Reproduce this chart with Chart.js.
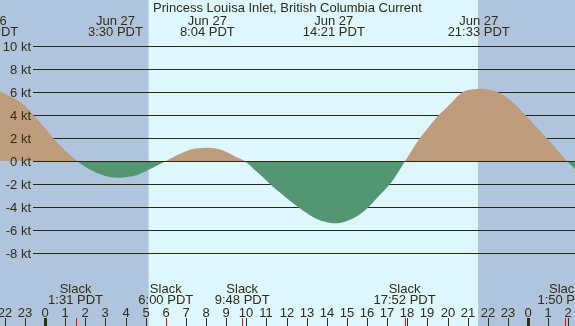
<!DOCTYPE html>
<html>
<head>
<meta charset="utf-8">
<script src="https://cdn.jsdelivr.net/npm/chart.js@4/dist/chart.umd.min.js"></script>
<style>
html,body{margin:0;padding:0;background:#fff;overflow:hidden;}
#wrap{width:575px;height:326px;position:relative;}
</style>
</head>
<body>
<div id="wrap"><canvas id="c" width="575" height="326"></canvas></div>
<script>
// ---- Data (hours relative to Jun 27 00:00 PDT) ----
const title = "Princess Louisa Inlet, British Columbia Current";
const hours = [-2.9, -2.24, -2, -1.5, -1, -0.6, 0, 0.4, 1, 1.6,
  2, 2.5, 3, 3.55, 4, 4.5, 5, 5.5, 6.02,
  6.5, 7, 7.5, 8.07, 8.5, 9, 9.5, 9.92,
  10.5, 11, 11.18, 11.5, 12, 12.59, 13, 13.5, 14, 14.4, 15, 15.5, 16.07, 16.5, 17.14, 17.5, 17.89,
  18.63, 19, 19.58, 20, 20.78, 21.2, 21.6, 22, 22.44, 23, 23.5, 23.85, 24.5, 24.93, 25.5, 25.92, 26.4];
const knots = [6.3, 6.0, 5.85, 5.4, 4.8, 4.0, 2.85, 2.0, 0.9, 0,
  -0.5, -0.98, -1.3, -1.45, -1.4, -1.25, -0.88, -0.45, 0,
  0.45, 0.85, 1.08, 1.15, 1.08, 0.8, 0.35, 0,
  -0.9, -1.7, -2.0, -2.5, -3.2, -4.0, -4.5, -5.02, -5.3, -5.4, -5.2, -4.78, -4.0, -3.2, -2.0, -1.1, 0,
  2.0, 2.8, 4.0, 4.7, 6.0, 6.2, 6.26, 6.2, 6.0, 5.45, 4.65, 4.0, 2.8, 2.0, 0.85, 0, -0.8];

const eventHours = [-2.87, 3.5, 8.067, 14.35, 21.55];
const eventDates = ["Jun 26", "Jun 27", "Jun 27", "Jun 27", "Jun 27"];
const eventTimes = ["21:08 PDT", "3:30 PDT", "8:04 PDT", "14:21 PDT", "21:33 PDT"];

const slackHours = [1.517, 6.0, 9.8, 17.867, 25.833];
const slackTimes = ["1:31 PDT", "6:00 PDT", "9:48 PDT", "17:52 PDT", "1:50 PDT"];

const sunrise = 5.15, sunset = 21.52;
const hourTicks = [];
for (let h = -2; h <= 26; h++) hourTicks.push(h);
const hourLabels = hourTicks.map(h => String(((h % 24) + 24) % 24));
const ktTicks = [10, 8, 6, 4, 2, 0, -2, -4, -6, -8];

// ---- Style ----
const NIGHT = '#B0C4DE', DAY = '#DEF6FD', FLOOD = '#BE9C7C', EBB = '#529672';
const INK = '#2e2e10', GRID = '#2a2a08';
const FONT = '13px "Liberation Sans", Arial, sans-serif';

const deco = {
  id: 'deco',
  beforeDatasetsDraw(chart) {
    const {ctx, chartArea: a, scales: {x, y}} = chart;
    ctx.save();
    const xs = x.getPixelForValue(sunrise), xe = x.getPixelForValue(sunset);
    ctx.fillStyle = NIGHT; ctx.fillRect(a.left, a.top, a.right - a.left, a.bottom - a.top);
    ctx.fillStyle = DAY; ctx.fillRect(xs, a.top, xe - xs, a.bottom - a.top);
    ctx.strokeStyle = GRID; ctx.lineWidth = 1;
    ktTicks.forEach(k => {
      const py = Math.round(y.getPixelForValue(k)) + 0.5;
      ctx.beginPath(); ctx.moveTo(33, py); ctx.lineTo(a.right, py); ctx.stroke();
    });
    ctx.restore();
  },
  afterDatasetsDraw(chart) {
    const {ctx, chartArea: a, scales: {x, y}} = chart;
    ctx.save();
    ctx.strokeStyle = GRID; ctx.lineWidth = 1;
    const y0 = Math.round(y.getPixelForValue(0)) + 0.5;
    ctx.beginPath(); ctx.moveTo(33, y0); ctx.lineTo(a.right, y0); ctx.stroke();
    ctx.font = FONT; ctx.fillStyle = INK; ctx.textBaseline = 'alphabetic';
    ctx.textAlign = 'right';
    ktTicks.forEach(k => {
      const py = Math.round(y.getPixelForValue(k));
      ctx.fillText(k + ' kt', 31, py + 4.5);
    });
    ctx.textAlign = 'center';
    ctx.fillText(title, 287.5, 12);
    eventHours.forEach((h, i) => {
      const px = x.getPixelForValue(h);
      ctx.fillText(eventDates[i], px, 24.5);
      ctx.fillText(eventTimes[i], px, 36);
    });
    slackHours.forEach((h, i) => {
      const px = x.getPixelForValue(h);
      ctx.fillText('Slack', px, 292.5);
      ctx.fillText(slackTimes[i], px, 304);
    });
    hourTicks.forEach((h, i) => {
      const px = Math.round(x.getPixelForValue(h));
      ctx.fillStyle = INK;
      ctx.fillText(hourLabels[i], px, 316.5);
      const w = (h % 24 === 0) ? 3 : 1;
      ctx.fillRect(px - Math.floor(w / 2), 318, w, 8);
    });
    ctx.fillStyle = '#ff0000';
    slackHours.forEach(h => {
      const px = Math.round(x.getPixelForValue(h));
      ctx.fillRect(px, 318, 1, 8);
    });
    ctx.restore();
  }
};

new Chart(document.getElementById('c'), {
  type: 'line',
  data: {
    datasets: [{
      data: hours.map((h, i) => ({x: h, y: knots[i]})),
      borderColor: 'rgba(0,0,0,0)',
      borderWidth: 0,
      pointRadius: 0,
      cubicInterpolationMode: 'monotone',
      fill: {target: 'origin', above: FLOOD, below: EBB}
    }]
  },
  options: {
    responsive: false,
    animation: false,
    devicePixelRatio: 1,
    layout: {padding: 0},
    plugins: {legend: {display: false}, tooltip: {enabled: false}, title: {display: false}},
    events: [],
    scales: {
      x: {type: 'linear', display: false, min: -2.236, max: 26.335},
      y: {type: 'linear', display: false, min: -14.30, max: 13.95}
    }
  },
  plugins: [deco]
});
</script>
</body>
</html>
